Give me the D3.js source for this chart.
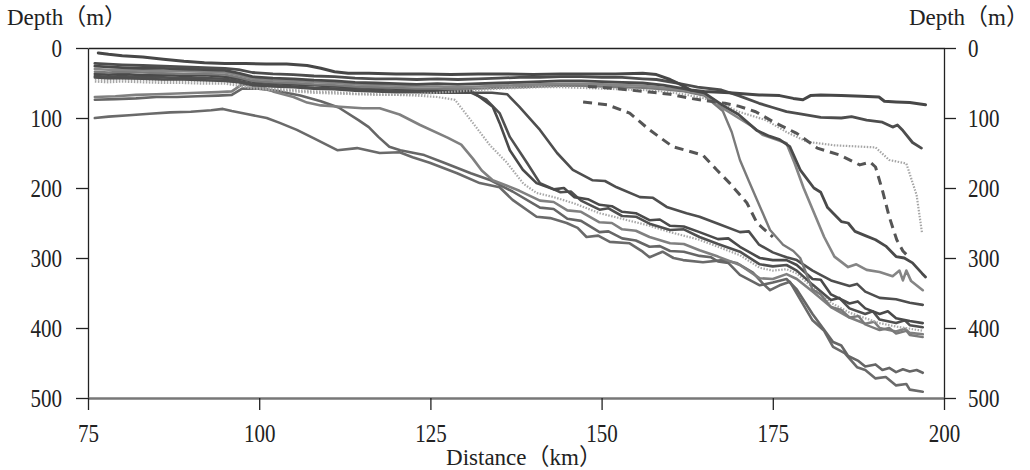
<!DOCTYPE html>
<html>
<head>
<meta charset="utf-8">
<script src="https://cdn.jsdelivr.net/npm/d3@7"></script>
<style>
  body { margin: 0; background: #fff; }
  svg text { font-family: "Liberation Serif", "DejaVu Serif", "Noto Sans CJK JP", serif; fill: #222; }
</style>
</head>
<body>
<div id="chart"></div>
<script>
// distance (km) / depth (m) pairs
var lineA = [[76.5,7],[78,9],[80,11],[83,13],[86,16],[89,19],[92,21],[95,22],[98,22],[101,23],[104,23],[107,25],[109,29],[111,34],[113,36],[116,36],[120,37],[124,37],[128,38],[132,37],[136,37],[140,38],[144,37],[148,37],[152,37],[156,36],[158,38],[160,45],[161.5,52],[163,60],[165,62],[168.7,64],[173,67],[176,68],[178,72],[179.4,74],[180.5,68],[182,67],[185,68],[188,69],[190.5,70],[191.3,76],[193,77],[195,78],[196.5,80],[197.3,81]];
var lineE2 = [[76,22],[78,23],[80,24],[83,25],[86,26],[89,27],[92,28],[95,29],[97,31],[99,35],[102,37],[105,38],[108,40],[111,41],[114,43],[117,44],[120,44],[123,45],[126,44],[129,45],[132,44],[135,43],[138,42],[141,42],[144,41],[147,41],[150,42],[153,42],[156,44],[158,45],[161,50],[164,56],[167.5,60],[170,68],[173,79],[175,85],[177,91],[179,94],[182,99],[185,100],[186.5,98],[188.7,103],[191,106],[192.5,113],[193.2,110],[194,118],[195.4,135],[196.7,143]];
var lineE5 = [[76,26],[78,27],[80,28],[83,29],[86,29],[89,30],[92,31],[95,32],[97,36],[99,41],[102,43],[105,44],[108,46],[111,47],[114,49],[117,50],[120,51],[123,52],[126,51],[129,52],[132,51],[135,50],[138,49],[141,48],[144,47],[147,47],[150,48],[153,49],[156,50],[159,53],[162,58],[165,64],[167.7,82],[170,95],[172.7,118],[174.5,126],[176,131],[177.5,141],[179,174],[181,200],[182,206],[183,228],[185,248],[186,250],[187,262],[188.5,268],[190,274],[191.5,283],[193,298],[194.2,300],[195.4,307],[196.8,322],[197.3,327]];
var lineE6 = [[76,30],[78,31],[80,31],[83,32],[86,33],[89,33],[92,34],[95,35],[97,39],[99,44],[102,46],[105,47],[108,49],[111,50],[114,52],[117,53],[120,54],[123,55],[126,55],[129,56],[132,55],[135,54],[138,53],[141,52],[144,51],[147,51],[150,52],[153,53],[156,54],[159,57],[162,60],[165,66],[167.7,86],[170,100],[172,112],[173.5,124],[175.6,131],[177,136],[178.2,165],[179.5,200],[181,235],[182.5,270],[184,298],[186,313],[187.2,309],[188.7,317],[190.6,320],[192.5,326],[193.5,318],[194,332],[194.5,318],[195.2,333],[196.9,346]];
var lineS5 = [[76,34],[78,35],[80,34],[83,35],[86,36],[89,37],[92,37],[95,38],[97,42],[99,47],[102,49],[105,50],[108,52],[111,53],[114,55],[117,56],[120,57],[123,58],[126,58],[129,59],[132,58],[135,57],[138,56],[141,55],[144,54],[147,54],[150,55],[153,56],[156,57],[159,59],[162,62],[165,68],[167.7,90],[169,120],[170.2,160],[171.5,190],[172.7,217],[174.6,260],[176.5,281],[178,290],[179,300],[180.8,345],[182,352],[183.5,370],[185,374],[186.2,385],[187.5,383],[188.5,395],[190.6,403],[192,400],[193,408],[194.5,404],[195,410],[196.9,413]];
var lineS2 = [[76,37],[78,38],[80,37],[83,39],[86,38],[89,40],[92,39],[95,41],[97,44],[99,48],[102,50],[105,52],[108,53],[111,55],[114,56],[117,57],[120,58],[123,59],[126,60],[129,61],[131,62],[132.2,70],[134.1,84],[135.1,107],[136.6,146],[138.5,174],[140.5,193],[143,202],[144.5,200],[146,213],[148,216],[149.7,224],[151.5,226],[153,234],[155,236],[157,246],[158.5,245],[160,254],[162,255],[164.3,263],[167,273],[168.5,272],[170.2,284],[173.1,300],[175,303],[177,303],[178.5,310],[180.8,330],[182,331],[183.5,352],[186.2,365],[187.4,362],[188.5,372],[190.6,380],[191.8,376],[193,386],[195,390],[196.9,393]];
var lineS3 = [[76,40],[78,41],[80,40],[83,42],[86,42],[89,43],[92,43],[95,44],[97,47],[99,51],[102,53],[105,55],[108,57],[111,58],[114,59],[117,60],[120,61],[123,62],[126,62],[129,63],[131,64],[133.2,74],[135.1,93],[136.6,127],[139.1,164],[141,193],[144,206],[145.5,205],[147,218],[149.7,231],[151,229],[153,240],[155,241],[157,251],[160,260],[162,259],[164.3,270],[167,280],[170.2,291],[173.1,309],[175,312],[177,310],[178.5,318],[180.8,338],[183.5,360],[184.7,357],[186.2,372],[188.5,380],[189.6,376],[190.6,388],[193,393],[194.3,389],[195,396],[196.9,399]];
var lineS4 = [[76,42],[78,43],[80,43],[83,44],[86,45],[89,45],[92,46],[95,47],[97,49],[99,53],[102,55],[105,56],[108,58],[111,59],[114,61],[117,62],[120,63],[123,63],[126,64],[129,64],[132,64],[134,64],[136.2,66],[138,84],[141,117],[143.5,150],[145.8,174],[148.7,189],[150.5,190],[152.2,199],[155.6,213],[157.5,214],[159.5,227],[162.4,236],[164.3,241],[167,251],[170.2,263],[171.5,262],[173,281],[175,292],[177,299],[178.5,303],[180.8,318],[183.5,332],[186.2,340],[187.3,337],[188.5,348],[190.6,357],[193,359],[195,364],[196.9,367]];
var lineS1 = [[76,45],[78,46],[80,45],[83,46],[86,47],[89,47],[92,48],[95,48],[97,51],[99,56],[102,58],[105,60],[108,62],[111,63],[114,65],[117,66],[120,67],[123,68],[126,70],[128.6,74],[131.2,107],[133.7,139],[136.1,163],[138.6,194],[140.5,207],[143,213],[146,222],[149.7,236],[153,244],[157,254],[160,263],[164.3,274],[167,284],[170.2,296],[173.1,314],[175,318],[177,316],[178.5,322],[180.8,342],[183.5,364],[186.2,378],[188.5,386],[190.6,393],[193,398],[195,401],[196.9,404]];
var lineE3 = [[76,48],[78,49],[80,48],[83,49],[86,50],[89,50],[92,51],[95,51],[97,54],[99,58],[102,60],[105,62],[108,64],[111,65],[114,66],[117,67],[120,67],[123,66],[126,64],[129,62],[132,60],[135,58],[138,57],[141,56],[144,56],[147,57],[150,58],[153,59],[156,60],[159,62],[162,66],[165,72],[168,82],[170,91],[174,103],[177,120],[180,134],[184,139],[188,141],[190,142],[192,160],[194.5,165],[196,210],[196.8,265]];
var lineM1 = [[76,70],[79,69],[82,67],[85,66],[88,65],[91,64],[94,63],[96,62],[97.5,52],[100,55],[102,62],[105,70],[107,78],[109,82],[111.8,84],[115.1,86],[117.6,86],[120.5,95],[123.5,110],[127.5,128],[129.5,138],[131.2,158],[132.5,175],[134.1,189],[136,196],[138,204],[141,218],[143,220],[145,232],[147,234],[149.7,249],[151.5,250],[153,259],[155,261],[157,270],[160,279],[162,280],[164.3,289],[167,298],[170.2,310],[173.1,329],[175,330],[177,323],[178.5,330],[180.8,348],[183.5,370],[186.2,385],[188.5,394],[189.8,391],[190.6,400],[193,405],[194.3,401],[195,407],[196.9,409]];
var lineM2 = [[76,74],[79,73],[82,72],[85,70],[88,70],[91,69],[94,68],[96,67],[97.5,58],[100,58],[103,62],[106,68],[109,76],[111.6,85],[114.5,103],[116,113],[117.4,127],[119,141],[120.6,146],[124.1,153],[127,164],[130.9,179],[133.8,189],[137,205],[141,228],[143,230],[145,244],[147,247],[149.7,263],[151,262],[153,272],[155,275],[157,284],[158.5,283],[160,290],[162,291],[164.3,297],[166,299],[167,305],[168.5,307],[170.2,324],[173.1,339],[175,335],[177,330],[178.5,345],[180.8,380],[183.8,420],[185,425],[186,440],[187.5,447],[188.5,455],[190,452],[191,460],[192,457],[193,463],[194,459],[195,462],[196,460],[196.9,464]];
var lineBottom = [[76,100],[78,98],[81,96],[84,94],[87,92],[90,91],[93,89],[94.7,87],[96,90],[98,94],[101.1,100],[103,107],[105.5,117],[108,129],[111.4,146],[114.3,143],[117.6,150],[120.5,149],[122.4,156],[124.9,164],[128.9,179],[132.2,193],[135.1,199],[137,217],[140.5,241],[142.5,243],[144.9,250],[146.5,257],[147.8,270],[149.5,268],[151.2,277],[154.1,279],[156,291],[157,299],[158.9,291],[160.5,300],[161.9,303],[164.8,306],[167.7,303],[169.7,307],[172.1,321],[173.5,336],[174.6,346],[176,339],[177.5,334],[180.8,389],[182.5,404],[183.8,427],[185.5,436],[187.3,456],[188.5,460],[190,472],[191.5,470],[193,482],[194.5,480],[195,488],[196.9,491]];
var dashedLeft = [[147.3,77],[150.8,81],[154.1,93],[157,117],[160.4,141],[164.8,153],[166.8,174],[168.7,193],[171.2,221],[172.7,250],[175,270]];
var dashedRight = [[148,55],[151,57],[154,60],[157,63],[160,66],[163,72],[165,75],[168,79],[170,83],[172.5,91],[175,105],[178.5,122],[181.5,143],[184.8,153],[187.7,167],[189.2,163],[190,170],[191,203],[192,241],[193.1,274],[194,290],[195,300]];

var xTicks = [75, 100, 125, 150, 175, 200];
var yTicks = [0, 100, 200, 300, 400, 500];

// drawing styles, kept apart from the values
var series = [
  { data: lineBottom, color: '#6a6a6a', width: 2.6 },
  { data: lineM2, color: '#666', width: 2.6 },
  { data: lineM1, color: '#808080', width: 2.6 },
  { data: lineS1, color: '#a8a8a8', width: 2.2, dash: '1.5,1.5' },
  { data: lineS3, color: '#505050', width: 2.6 },
  { data: lineS2, color: '#4a4a4a', width: 2.6 },
  { data: lineS4, color: '#4e4e4e', width: 2.6 },
  { data: lineS5, color: '#7a7a7a', width: 2.4 },
  { data: lineE6, color: '#858585', width: 2.6 },
  { data: lineE3, color: '#a5a5a5', width: 2.2, dash: '1.5,1.5' },
  { data: lineE5, color: '#4a4a4a', width: 2.8 },
  { data: lineE2, color: '#4d4d4d', width: 2.8 },
  { data: lineA, color: '#474747', width: 3 },
  { data: dashedLeft, color: '#555', width: 3, dash: '9,6' },
  { data: dashedRight, color: '#555', width: 3, dash: '9,6' }
];

var W = 1030, H = 470;
var FONT = '"Liberation Serif", "DejaVu Serif", "Noto Sans CJK JP", serif';
var svg = d3.select('#chart').append('svg')
    .attr('width', W)
    .attr('height', H);

var x = d3.scaleLinear().domain([75, 200]).range([88, 944]);
var y = d3.scaleLinear().domain([0, 500]).range([48, 398]);

var line = d3.line()
    .x(function(d) { return x(d[0]); })
    .y(function(d) { return y(d[1]); });

svg.append('g').selectAll('path')
    .data(series)
    .enter()
    .append('path')
      .attr('d', function(d) { return line(d.data); })
      .attr('fill', 'none')
      .attr('stroke', function(d) { return d.color; })
      .attr('stroke-width', function(d) { return d.width; })
      .attr('stroke-dasharray', function(d) { return d.dash || null; })
      .attr('stroke-linejoin', 'round')
      .attr('stroke-linecap', function(d) { return d.dash ? 'butt' : 'round'; });

function styleAxis(g) {
  g.attr('font-family', FONT);
  g.select('.domain').attr('stroke', '#222').attr('stroke-width', 1.3);
  g.selectAll('.tick line').attr('stroke', '#222').attr('stroke-width', 1.3);
  g.selectAll('.tick text')
    .attr('fill', '#222')
    .style('font-family', FONT)
    .style('font-size', '25px')
    .attr('textLength', function(d) { return String(d).length * 10.5; })
    .attr('lengthAdjust', 'spacingAndGlyphs');
}

svg.append('g')
    .attr('transform', 'translate(0,48)')
    .call(d3.axisTop(x).tickValues([]).tickSizeOuter(0))
    .call(styleAxis);

svg.append('g')
    .attr('transform', 'translate(88,0)')
    .call(d3.axisLeft(y).tickValues(yTicks).tickSize(12).tickSizeOuter(0).tickPadding(14))
    .call(styleAxis);

svg.append('g')
    .attr('transform', 'translate(944,0)')
    .call(d3.axisRight(y).tickValues(yTicks).tickSize(12).tickSizeOuter(0).tickPadding(12))
    .call(styleAxis);

svg.append('g')
    .attr('transform', 'translate(0,398)')
    .call(d3.axisBottom(x).tickValues(xTicks).tickSize(12).tickSizeOuter(0).tickPadding(14))
    .call(function(g) {
      styleAxis(g);
      g.select('.domain').attr('stroke', '#777').attr('stroke-width', 2.4);
    });

svg.append('text')
    .attr('x', 7).attr('y', 25)
    .style('font-family', FONT)
    .style('font-size', '23px')
    .text('Depth（m）');

svg.append('text')
    .attr('x', 1029).attr('y', 25)
    .attr('text-anchor', 'end')
    .style('font-family', FONT)
    .style('font-size', '23px')
    .text('Depth（m）');

svg.append('text')
    .attr('x', 524).attr('y', 465)
    .attr('text-anchor', 'middle')
    .style('font-family', FONT)
    .style('font-size', '23px')
    .text('Distance（km）');
</script>
</body>
</html>
